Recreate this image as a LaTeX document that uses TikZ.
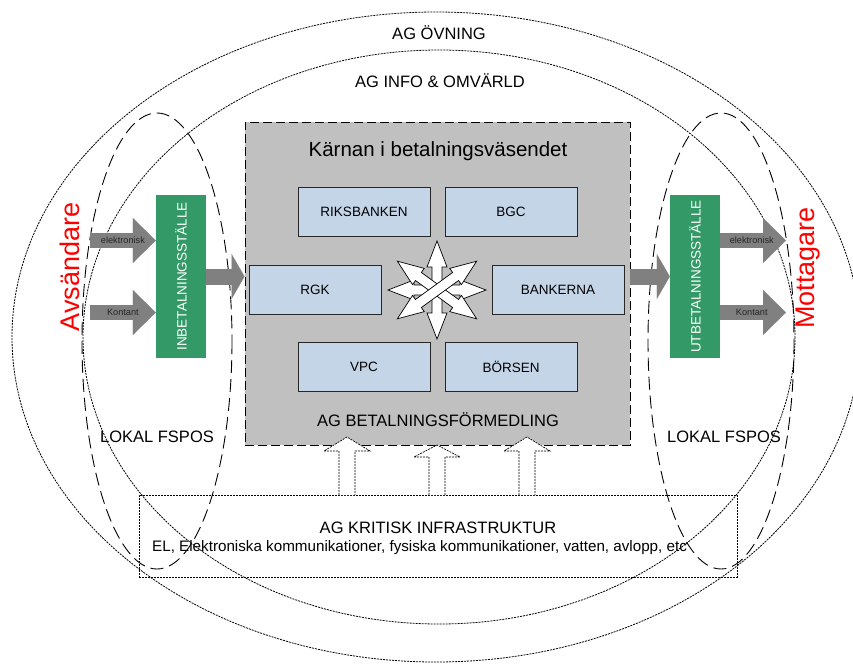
\documentclass[tikz,border=0pt]{standalone}
\usepackage{fontspec}
\setmainfont{Liberation Sans}
\usetikzlibrary{arrows.meta}
\definecolor{coregray}{RGB}{192,192,192}
\definecolor{boxblue}{RGB}{197,213,232}
\definecolor{stallegreen}{RGB}{51,153,102}
\definecolor{arrgray}{RGB}{128,128,128}
\tikzset{
  ring/.style={line width=0.8pt, dash pattern=on 2pt off 1pt},
  lokal/.style={line width=0.9pt, dash pattern=on 13pt off 6pt},
  ringlabel/.style={inner sep=0pt, font=\fontsize{16.5}{18}\selectfont},
  title/.style={inner sep=0pt, font=\fontsize{20.5}{22}\selectfont},
  core/.style={draw, fill=coregray, line width=0.9pt,
    dash pattern=on 9pt off 4pt, minimum width=385pt, minimum height=323pt},
  actor/.style={draw=black!85, fill=boxblue, line width=0.7pt,
    minimum width=132pt, minimum height=49pt, font=\fontsize{13.5}{15}\selectfont},
  stalle/.style={fill=stallegreen, text=white, inner sep=0pt,
    minimum width=50pt, minimum height=163pt, font=\fontsize{13.5}{15}\selectfont},
  party/.style={rotate=90, text=red, inner sep=0pt, font=\fontsize{27}{29}\selectfont},
  inarr/.style={arrgray, line width=15pt,
    -{Triangle[width=45pt, length=23pt, line width=0.1pt]}},
  feedarr/.style={arrgray, line width=16pt,
    -{Triangle[width=45pt, length=13pt, line width=0.1pt]}},
  arrlabel/.style={text=black!85, inner sep=0pt, font=\fontsize{9.2}{10}\selectfont},
  stararr/.style={draw, fill=white, line width=0.7pt, line join=miter},
  infra/.style={draw, line width=0.7pt, dash pattern=on 2pt off 1pt,
    minimum width=598pt, minimum height=82pt},
  hollowarr/.style={draw, fill=white, line width=0.7pt, dash pattern=on 2pt off 1pt},
  smalltext/.style={inner sep=0pt, font=\fontsize{15.2}{17}\selectfont}
}
\begin{document}
\begin{tikzpicture}[x=1pt,y=-1pt]
  \useasboundingbox (0,0) rectangle (853,664);

  % outer rings
  \draw[ring] (436,337) ellipse [x radius=424, y radius=325];
  \draw[ring] (439,337) ellipse [x radius=356, y radius=287];
  \node[ringlabel] (ovning) at (439,33) {AG ÖVNING};
  \node[ringlabel] (info) at (440,81) {AG INFO \& OMVÄRLD};

  % local areas
  \draw[lokal] (157,341) ellipse [x radius=75, y radius=228];
  \draw[lokal] (721,341) ellipse [x radius=73, y radius=228];
  \node[ringlabel] (lokalL) at (157,437) {LOKAL FSPOS};
  \node[ringlabel] (lokalR) at (724,437) {LOKAL FSPOS};

  % core of the payment system
  \node[core] (core) at (437.5,283.5) {};
  \node[title] (karna) at (438,151) {Kärnan i betalningsväsendet};
  \node[ringlabel] (agbet) at (438,420) {AG BETALNINGSFÖRMEDLING};

  \node[actor] (riks) at (364,211.5) {RIKSBANKEN};
  \node[actor] (bgc) at (511,211.5) {BGC};
  \node[actor] (rgk) at (315,289.5) {RGK};
  \node[actor] (bank) at (558,289.5) {BANKERNA};
  \node[actor] (vpc) at (364,367) {VPC};
  \node[actor] (borsen) at (511,367) {BÖRSEN};

  % star of double arrows
  \coordinate (mid) at (437,290);
  \foreach \a in {0,90,-36,36}
    \draw[stararr, shift={(mid)}, rotate=\a]
      (-49,0) -- (-23,10) -- (-23,5) -- (23,5) -- (23,10) -- (49,0)
      -- (23,-10) -- (23,-5) -- (-23,-5) -- (-23,-10) -- cycle;

  % sender side
  \node[stalle] (inb) at (181,276.5) {\rotatebox{90}{INBETALNINGSSTÄLLE}};
  \node[party] (avs) at (70,267) {Avsändare};
  \coordinate (elIn) at (90,240.5);
  \coordinate (kontIn) at (90,312.5);
  \draw[inarr] (elIn) -- (inb.west |- elIn)
    node[arrlabel, pos=0.5] {elektronisk};
  \draw[inarr] (kontIn) -- (inb.west |- kontIn)
    node[arrlabel, pos=0.5] {Kontant};
  \draw[feedarr] (inb.east) -- (core.west |- inb.east);

  % receiver side
  \node[stalle] (utb) at (695,276.5) {\rotatebox{90}{UTBETALNINGSSTÄLLE}};
  \node[party] (mott) at (808,268) {Mottagare};
  \coordinate (elOut) at (786,240.5);
  \coordinate (kontOut) at (786,312.5);
  \draw[feedarr] (core.east |- utb.west) -- (utb.west);
  \draw[inarr] (utb.east |- elOut) -- (elOut)
    node[arrlabel, pos=0.48] {elektronisk};
  \draw[inarr] (utb.east |- kontOut) -- (kontOut)
    node[arrlabel, pos=0.48] {Kontant};

  % critical infrastructure
  \node[infra] (infra) at (438,536) {};
  \node[ringlabel] (kritisk) at (438,528) {AG KRITISK INFRASTRUKTUR};
  \node[smalltext, anchor=west] (elinfo) at (152,548)
    {EL, Elektroniska kommunikationer, fysiska kommunikationer, vatten, avlopp, etc};

  \foreach \x/\tip/\base in {347/437/451, 437/445/457, 527/437/451}
    \draw[hollowarr] (\x-8,495) -- (\x-8,\base) -- (\x-23,\base) -- (\x,\tip)
      -- (\x+23,\base) -- (\x+8,\base) -- (\x+8,495);
\end{tikzpicture}
\end{document}
